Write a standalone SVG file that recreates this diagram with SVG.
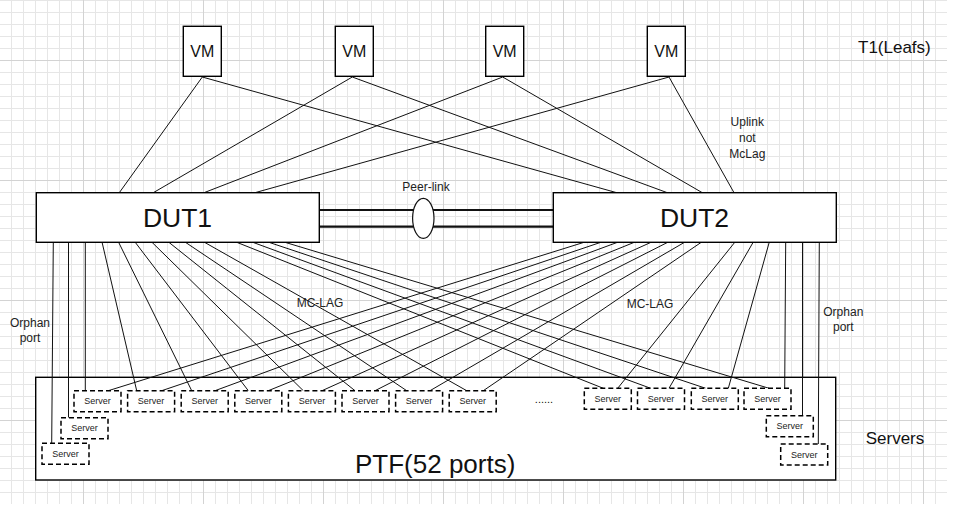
<svg xmlns="http://www.w3.org/2000/svg" width="954" height="508" viewBox="0 0 954 508">
<defs>
<pattern id="grid" x="83" y="60" width="120" height="120" patternUnits="userSpaceOnUse">
<path d="M12.5 0V120M24.5 0V120M36.5 0V120M48.5 0V120M60.5 0V120M72.5 0V120M84.5 0V120M96.5 0V120M108.5 0V120M0 12.5H120M0 24.5H120M0 36.5H120M0 48.5H120M0 60.5H120M0 72.5H120M0 84.5H120M0 96.5H120M0 108.5H120" stroke="#e6e6e6" stroke-width="1" fill="none"/>
<path d="M0.5 0V120M0 0.5H120" stroke="#d3d3d3" stroke-width="1" fill="none"/>
</pattern>
<style>
.box{fill:#fff;stroke:#000;stroke-width:1.4}
.srv{fill:#fff;stroke:#000;stroke-width:1.5;stroke-dasharray:5 3}
.t{font-family:"Liberation Sans",Arial,sans-serif;fill:#111}
.vm{font-size:16px;text-anchor:middle}
.dut{font-size:26.5px;text-anchor:middle}
.st{font-size:9px;text-anchor:middle;fill:#222}
.lbl{font-size:12px;text-anchor:middle;fill:#222}
.ln{stroke:#111;stroke-width:1;fill:none}
</style>
</defs>
<rect x="0" y="0" width="954" height="508" fill="#fff"/>
<rect x="0" y="0" width="947" height="504" fill="url(#grid)"/>

<g id="ptf"><rect class="box" x="35.7" y="377.3" width="800" height="102.7" stroke-width="1.3"/><text class="t" x="355" y="473.3" font-size="26">PTF(52 ports)</text></g>

<g id="connectors">
<!-- VM to DUT -->
<path class="ln" d="M202.3 77L119.3 192.7M202.3 77L616.7 192.7M352.3 77L153.3 192.7M352.3 77L667.3 192.7M502.7 77L204 192.7M502.7 77L702.3 192.7M669 77L255 192.7M669 77L734 192.7"/>
<!-- DUT1 verticals -->
<path class="ln" d="M53.3 242L51.7 443.3M68.5 242V417.7M85.3 242V390.7"/>
<!-- DUT1 to left servers -->
<path class="ln" d="M102 242L136.7 390.7M118.5 242L191.7 390.7M135 242L248.3 390.7M151.7 242L303.3 390.7M168.5 242L355 390.7M185 242L406.7 390.7M204 242L466.7 390.7"/>
<!-- DUT1 to right servers -->
<path class="ln" d="M236 242L603.3 388.3M252 242L650.7 388.3M268 242L705.7 388.3M284 242L769 388.3"/>
<!-- DUT2 to left servers -->
<path class="ln" d="M585 242L108.3 390.7M601.7 242L161.7 390.7M618.3 242L215 390.7M635 242L268.3 390.7M651.7 242L322 390.7M668.3 242L375 390.7M685 242L430 390.7M701.7 242L483.3 390.7"/>
<!-- DUT2 to right servers -->
<path class="ln" d="M735 242L617.7 388.3M753.3 242L669 388.3M769.3 242L728.3 388.3"/>
<!-- DUT2 verticals -->
<path class="ln" d="M785.7 242L784.7 388.3M802.5 242V415.7M819.3 242L818.3 444"/>
<!-- peer link -->
<path d="M319 210H553M319 226.7H553" stroke="#111" stroke-width="2.2" fill="none"/>
</g>

<g id="peer-link">
<ellipse cx="423.3" cy="218.3" rx="10.7" ry="20" fill="#fff" stroke="#111" stroke-width="1.2"/>
<text class="t lbl" x="426" y="190.5">Peer-link</text>
</g>

<g id="vm1"><rect class="box" x="183.3" y="26.3" width="38" height="50"/><text class="t vm" x="202.3" y="57.3">VM</text></g>
<g id="vm2"><rect class="box" x="335.3" y="26.3" width="38" height="50"/><text class="t vm" x="354.3" y="57.3">VM</text></g>
<g id="vm3"><rect class="box" x="485.7" y="26.3" width="38" height="50"/><text class="t vm" x="504.7" y="57.3">VM</text></g>
<g id="vm4"><rect class="box" x="647.3" y="26.3" width="38" height="50"/><text class="t vm" x="666.3" y="57.3">VM</text></g>

<g id="dut1"><rect class="box" x="36.3" y="192.7" width="283" height="49.6"/><text class="t dut" x="177.5" y="226.7">DUT1</text></g>
<g id="dut2"><rect class="box" x="553.3" y="192.7" width="283" height="49.6"/><text class="t dut" x="694.5" y="226.7">DUT2</text></g>

<g id="servers-left">
<g id="srv1"><rect class="srv" x="74" y="390.7" width="47" height="21"/><text class="t st" x="97.5" y="404.3">Server</text></g>
<g id="srv2"><rect class="srv" x="127.6" y="390.7" width="47" height="21"/><text class="t st" x="151.1" y="404.3">Server</text></g>
<g id="srv3"><rect class="srv" x="181.2" y="390.7" width="47" height="21"/><text class="t st" x="204.7" y="404.3">Server</text></g>
<g id="srv4"><rect class="srv" x="234.8" y="390.7" width="47" height="21"/><text class="t st" x="258.3" y="404.3">Server</text></g>
<g id="srv5"><rect class="srv" x="288.4" y="390.7" width="47" height="21"/><text class="t st" x="311.9" y="404.3">Server</text></g>
<g id="srv6"><rect class="srv" x="342" y="390.7" width="47" height="21"/><text class="t st" x="365.5" y="404.3">Server</text></g>
<g id="srv7"><rect class="srv" x="395.6" y="390.7" width="47" height="21"/><text class="t st" x="419.1" y="404.3">Server</text></g>
<g id="srv8"><rect class="srv" x="449.2" y="390.7" width="47" height="21"/><text class="t st" x="472.7" y="404.3">Server</text></g>
<g id="srv-orph-l1"><rect class="srv" x="61" y="417.7" width="47" height="21"/><text class="t st" x="84.5" y="431.3">Server</text></g>
<g id="srv-orph-l2"><rect class="srv" x="42" y="443.3" width="47" height="21"/><text class="t st" x="65.5" y="456.9">Server</text></g>
</g>
<g id="servers-right">
<g id="srv9"><rect class="srv" x="584.3" y="388.3" width="47" height="21"/><text class="t st" x="607.8" y="401.9">Server</text></g>
<g id="srv10"><rect class="srv" x="637.5" y="388.3" width="47" height="21"/><text class="t st" x="661" y="401.9">Server</text></g>
<g id="srv11"><rect class="srv" x="691.3" y="388.3" width="47" height="21"/><text class="t st" x="714.8" y="401.9">Server</text></g>
<g id="srv12"><rect class="srv" x="744" y="388.3" width="47" height="21"/><text class="t st" x="767.5" y="401.9">Server</text></g>
<g id="srv-orph-r1"><rect class="srv" x="766.3" y="415.7" width="47" height="21"/><text class="t st" x="789.8" y="429.3">Server</text></g>
<g id="srv-orph-r2"><rect class="srv" x="780.7" y="444" width="47" height="21"/><text class="t st" x="804.2" y="457.6">Server</text></g>
</g>

<g id="labels">
<text class="t" x="544" y="402.5" font-size="11" text-anchor="middle">......</text>
<text class="t" x="858" y="53" font-size="17">T1(Leafs)</text>
<text class="t" x="865.7" y="444" font-size="17">Servers</text>
<text class="t lbl" x="747.3" y="126">Uplink</text>
<text class="t lbl" x="747.3" y="142">not</text>
<text class="t lbl" x="747.3" y="158">McLag</text>
<text class="t lbl" x="30" y="326.5">Orphan</text>
<text class="t lbl" x="30" y="342">port</text>
<text class="t lbl" x="843.3" y="315.5">Orphan</text>
<text class="t lbl" x="843.3" y="331">port</text>
<text class="t lbl" x="320" y="306.5" font-size="11.5">MC-LAG</text>
<text class="t lbl" x="650" y="308" font-size="11.5">MC-LAG</text>
</g>
</svg>
